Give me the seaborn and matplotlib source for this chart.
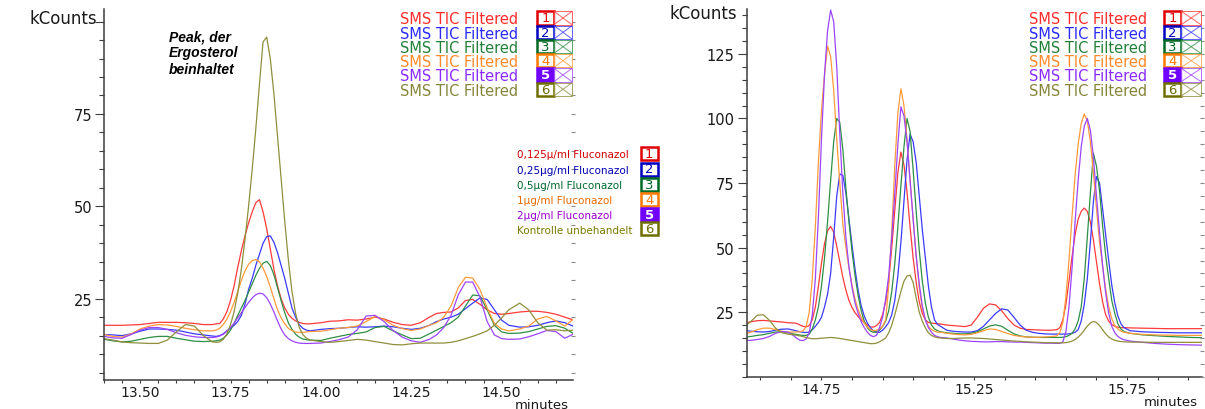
import numpy as np
import pandas as pd
import matplotlib
matplotlib.use("Agg")
import matplotlib.pyplot as plt
import seaborn as sns
from matplotlib.patches import Rectangle
from matplotlib.lines import Line2D
from matplotlib.ticker import MultipleLocator, FixedLocator, FormatStrFormatter

sns.set_theme(style="white")
plt.rcParams["font.family"] = ["DejaVu Sans"]

# ---------------------------------------------------------------- traces
trace_ids = ["1", "2", "3", "4", "5", "6"]
line_colors = ["#ff3a3a", "#3a3aff", "#2f8f45", "#ff9a3a", "#9c45ff", "#8f8f3c"]
label_colors = ["#ff2a2a", "#2a2aff", "#23803a", "#ff8a2a", "#8a2aff", "#85853a"]
box_colors = ["#e00000", "#0000c0", "#006a25", "#ff7800", "#7000ff", "#6e6e00"]
legend_text = "SMS TIC Filtered"
sample_labels = ["0,125µ/ml Fluconazol", "0,25µg/ml Fluconazol", "0,5µg/ml Fluconazol",
                 "1µg/ml Fluconazol", "2µg/ml Fluconazol", "Kontrolle unbehandelt"]
sample_colors = ["#d40000", "#0000b4", "#006a30", "#e86a00", "#9a00d0", "#7a7a00"]
peak_note = "Peak, der\nErgosterol\nbeinhaltet"

# ---------------------------------------------------------------- left window (13.4 - 14.7 min)
left_time = [13.400, 13.425, 13.450, 13.475, 13.500, 13.525, 13.550, 13.575, 13.600, 13.625, 13.650, 13.675, 13.700,
             13.71, 13.72, 13.73, 13.74, 13.75, 13.76, 13.77, 13.78, 13.79, 13.80,
             13.81, 13.82, 13.83, 13.84, 13.85, 13.86, 13.87, 13.88, 13.89, 13.90,
             13.91, 13.92, 13.93, 13.94, 13.95, 13.96, 13.97,
             14.000, 14.025, 14.050, 14.075, 14.100, 14.125, 14.150, 14.175, 14.200, 14.225, 14.250, 14.275, 14.300,
             14.32, 14.34, 14.36, 14.38, 14.40, 14.42, 14.44, 14.46, 14.48, 14.50, 14.52,
             14.55, 14.575, 14.60, 14.625, 14.65, 14.675, 14.70]

left_1 = [17.8, 17.8, 17.8, 17.9, 18.0, 18.3, 18.6, 18.6, 18.6, 18.5, 18.3, 18.0, 18.0,
          18.2, 18.3, 19.5, 21.5, 24.5, 28.5, 33.5, 38.0, 42.0, 45.5,
          48.5, 51.0, 51.8, 48.5, 44.0, 38.5, 33.0, 28.5, 25.0, 22.5,
          20.8, 19.7, 19.0, 18.6, 18.3, 18.2, 18.2,
          18.5, 18.9, 19.0, 19.3, 19.2, 19.5, 20.0, 19.5, 18.6, 18.0, 17.8, 18.5, 20.0,
          21.0, 21.3, 21.4, 22.5, 24.5, 24.8, 23.5, 22.0, 21.0, 20.8, 21.0,
          21.4, 21.6, 21.6, 21.3, 20.8, 20.0, 19.2]
left_2 = [15.3, 15.2, 15.0, 15.5, 16.2, 16.8, 16.8, 16.7, 16.5, 16.0, 15.5, 15.2, 14.9,
          14.8, 15.0, 15.5, 16.3, 17.0, 17.8, 18.8, 20.5, 23.5, 27.5,
          30.5, 34.0, 37.0, 40.0, 41.8, 42.0, 40.3, 37.5, 34.0, 30.5,
          26.5, 22.5, 20.0, 18.0, 17.0, 16.5, 16.3,
          16.7, 16.9, 17.0, 17.2, 17.4, 17.3, 17.4, 17.6, 17.4, 17.0, 16.7, 17.0, 17.8,
          18.8, 19.5, 20.0, 20.8, 22.3, 23.8, 25.2, 24.8, 22.0, 19.2, 17.8,
          17.3, 17.4, 17.8, 18.5, 19.0, 18.5, 17.5]
left_3 = [14.0, 13.6, 13.3, 13.5, 14.0, 14.5, 14.8, 14.8, 14.3, 13.9, 13.5, 13.4, 13.5,
          13.6, 13.8, 14.3, 15.2, 16.5, 18.3, 20.5, 22.5, 24.5, 26.8,
          29.0, 31.3, 33.2, 34.6, 35.1, 34.0, 31.5, 28.0, 24.5, 21.2,
          18.5, 16.7, 15.4, 14.6, 14.1, 13.9, 13.8,
          13.7, 14.3, 14.8, 15.3, 15.6, 16.0, 17.2, 17.5, 16.3, 15.2, 14.2, 14.3, 15.5,
          16.5, 17.5, 18.5, 20.0, 23.0, 26.0, 25.8, 22.0, 17.8, 16.0, 15.6,
          15.7, 16.1, 16.8, 17.5, 17.7, 17.0, 15.5]
left_4 = [15.3, 14.8, 14.6, 15.5, 16.8, 17.6, 18.0, 17.9, 17.5, 17.0, 16.6, 16.3, 16.3,
          16.5, 17.0, 18.0, 19.5, 21.5, 24.0, 27.0, 30.0, 32.5, 34.3,
          35.3, 35.6, 35.0, 33.3, 31.0, 28.2, 25.0, 22.0, 19.8, 18.2,
          17.0, 16.4, 16.0, 15.9, 15.9, 16.0, 16.1,
          16.2, 16.6, 17.0, 17.2, 17.6, 18.8, 20.2, 19.3, 17.8, 16.9, 16.4, 16.8, 17.8,
          18.5, 20.0, 23.0, 28.0, 30.8, 30.6, 27.5, 22.5, 18.3, 16.8, 16.3,
          16.8, 17.6, 19.5, 20.2, 19.0, 17.6, 19.6]
left_5 = [14.8, 14.4, 14.3, 15.3, 16.5, 17.2, 17.2, 16.7, 15.8, 15.1, 14.7, 14.5, 14.5,
          14.6, 14.9, 15.4, 16.2, 17.2, 18.4, 19.8, 21.2, 22.6, 24.0,
          25.2, 26.1, 26.5, 26.3, 25.3, 23.6, 21.4, 19.0, 16.8, 15.2,
          14.2, 13.6, 13.2, 13.0, 12.9, 12.9, 12.9,
          13.0, 13.4, 13.9, 14.6, 16.5, 20.3, 20.5, 18.8, 16.4, 14.6, 13.6, 13.2, 14.0,
          15.2, 17.2, 20.5, 26.0, 29.5, 29.5, 25.5, 18.8, 15.2, 14.2, 14.0,
          14.1, 14.7, 15.5, 16.4, 16.1, 14.3, 15.5]
left_6 = [14.2, 13.8, 13.3, 13.1, 13.0, 12.9, 12.9, 13.8, 16.0, 18.0, 17.6, 15.0, 13.3,
          13.2, 13.3, 14.0, 15.5, 18.0, 21.5, 26.5, 33.0, 41.0, 50.0,
          60.0, 71.0, 83.0, 94.5, 95.8, 90.0, 80.5, 69.0, 57.5, 46.0,
          35.5, 27.0, 21.0, 17.3, 15.3, 14.3, 13.8,
          13.4, 13.2, 13.4, 13.7, 14.0, 13.8, 13.4, 13.0, 12.6, 12.5, 12.8, 13.0, 13.0,
          13.0, 13.0, 13.2, 13.6, 14.2, 14.8, 15.5, 16.3, 17.8, 19.8, 22.0,
          23.8, 22.0, 18.5, 16.5, 16.6, 16.3, 16.5]

# ---------------------------------------------------------------- right window (14.5 - 16.0 min)
right_time = [14.50, 14.52, 14.54, 14.56, 14.58, 14.60, 14.62, 14.64, 14.66,
              14.67, 14.68, 14.69, 14.70, 14.71, 14.72, 14.73, 14.74, 14.75, 14.76,
              14.77, 14.78, 14.79, 14.80, 14.81, 14.82, 14.83, 14.84, 14.85, 14.86,
              14.87, 14.88, 14.89, 14.90, 14.91, 14.92, 14.93, 14.94, 14.95, 14.96,
              14.97, 14.98, 14.99, 15.00, 15.01, 15.02, 15.03, 15.04, 15.05, 15.06,
              15.07, 15.08, 15.09, 15.10, 15.11, 15.12, 15.13, 15.14,
              15.16, 15.18, 15.20, 15.22, 15.24, 15.26, 15.28, 15.30, 15.32, 15.34,
              15.36, 15.38, 15.40, 15.42, 15.44, 15.46, 15.48, 15.50, 15.52,
              15.53, 15.54, 15.55, 15.56, 15.57, 15.58, 15.59, 15.60, 15.61, 15.62,
              15.63, 15.64, 15.65, 15.66, 15.67, 15.68, 15.69, 15.70, 15.71, 15.72, 15.73, 15.74,
              15.76, 15.80, 15.84, 15.88, 15.92, 15.96, 16.00]

right_1 = [20.8, 21.3, 21.7, 21.8, 21.6, 21.4, 21.2, 20.9, 20.8,
           20.6, 20.0, 19.5, 19.3, 19.8, 22.0, 27.0, 35.0, 44.0, 51.5,
           56.5, 58.2, 56.0, 50.5, 44.5, 38.5, 33.5, 29.5, 26.8, 24.8,
           23.3, 22.0, 21.0, 20.0, 19.3, 19.2, 19.8, 21.0, 24.0, 29.0,
           37.0, 50.0, 64.5, 79.0, 87.0, 82.0, 71.5, 58.0, 46.0, 36.5,
           29.0, 24.5, 22.0, 21.0, 20.8, 20.6, 20.5, 20.4,
           20.0, 19.8, 19.6, 19.4, 20.0, 23.0, 26.5, 28.2, 27.8, 25.5,
           22.5, 20.0, 18.8, 18.3, 18.2, 18.1, 18.0, 18.0, 18.2,
           19.0, 22.0, 28.0, 37.0, 46.5, 55.0, 61.0, 64.0, 65.3, 64.0,
           60.0, 53.0, 44.5, 36.0, 29.0, 24.0, 21.5, 20.2, 19.5, 19.2, 19.0, 19.0,
           18.9, 18.8, 18.7, 18.6, 18.6, 18.6, 18.6]
right_2 = [17.9, 17.6, 17.4, 17.3, 17.5, 18.0, 18.4, 18.5, 18.0,
           17.7, 17.4, 17.2, 17.1, 17.3, 18.2, 19.5, 21.0, 23.0, 27.0,
           32.0, 40.0, 54.0, 70.0, 78.5, 78.0, 71.0, 61.0, 51.0, 41.5,
           33.5, 27.5, 23.5, 20.8, 19.0, 17.8, 17.2, 17.2, 18.0, 19.3,
           21.0, 24.0, 29.5, 39.0, 52.0, 68.0, 84.0, 94.0, 91.0, 83.0,
           70.0, 57.0, 46.0, 35.0, 27.0, 22.0, 20.2, 19.5,
           18.0, 17.6, 17.4, 17.3, 17.3, 17.8, 19.5, 22.0, 24.5, 26.3,
           25.8, 23.0, 20.0, 18.0, 17.2, 16.8, 16.6, 16.5, 16.5,
           16.5, 16.5, 16.5, 16.6, 16.8, 17.2, 18.2, 21.5, 28.0, 38.0,
           52.0, 68.0, 77.5, 75.0, 65.0, 55.0, 45.0, 35.5, 28.5, 23.5, 20.5, 19.0,
           17.8, 17.4, 17.2, 17.1, 17.0, 17.0, 17.0]
right_3 = [15.3, 15.6, 16.0, 16.3, 16.8, 17.3, 17.5, 17.0, 16.5,
           16.3, 16.1, 16.0, 16.0, 16.5, 18.5, 22.0, 27.0, 35.0, 46.0,
           60.0, 76.0, 91.0, 100.0, 98.5, 88.0, 73.0, 60.0, 48.5, 39.0,
           31.5, 25.5, 21.5, 19.0, 17.7, 17.2, 17.3, 18.0, 19.5, 21.5,
           25.5, 33.0, 44.0, 58.0, 74.0, 89.0, 100.0, 95.0, 80.0, 64.0,
           49.0, 37.0, 28.5, 23.0, 20.0, 18.5, 17.8, 17.4,
           17.0, 16.8, 16.6, 16.6, 16.8, 17.4, 18.5, 19.6, 20.1, 19.5,
           18.0, 16.6, 15.8, 15.4, 15.3, 15.2, 15.2, 15.2, 15.2,
           15.2, 15.3, 15.5, 16.0, 16.8, 18.5, 21.5, 27.0, 38.0, 54.0,
           71.0, 86.5, 81.5, 72.0, 58.5, 47.0, 38.0, 29.5, 24.5, 20.5, 18.5, 17.5,
           16.8, 16.2, 15.9, 15.6, 15.4, 15.2, 15.1]
right_4 = [16.5, 17.3, 18.2, 18.8, 18.8, 18.2, 17.6, 17.3, 17.3,
           17.3, 17.4, 17.8, 19.5, 25.0, 38.0, 58.0, 83.0, 103.0, 117.0,
           128.0, 124.0, 111.0, 92.0, 75.0, 59.0, 50.0, 42.0, 35.5, 30.0,
           26.0, 23.0, 20.8, 19.3, 18.3, 17.8, 18.0, 18.5, 19.5, 22.0,
           35.0, 56.0, 82.0, 102.0, 111.5, 105.0, 92.0, 76.0, 61.0, 47.0,
           34.5, 26.5, 22.0, 19.5, 18.3, 17.6, 17.3, 17.2,
           16.8, 16.5, 16.3, 16.2, 16.4, 17.0, 17.8, 18.5, 18.3, 17.5,
           16.7, 16.0, 15.6, 15.4, 15.3, 15.3, 15.4, 15.5, 15.8,
           17.0, 21.0, 31.0, 45.0, 62.0, 78.0, 90.0, 98.0, 101.8, 99.0,
           91.0, 79.0, 65.0, 52.0, 43.0, 34.0, 27.0, 22.5, 19.8, 18.5, 17.7, 17.2,
           16.8, 16.4, 16.2, 16.1, 16.0, 16.0, 16.0]
right_5 = [14.0, 14.1, 14.4, 14.8, 15.6, 16.8, 17.5, 17.3, 15.8,
           14.8, 14.1, 14.0, 14.6, 17.0, 24.0, 38.0, 62.0, 92.0, 117.0,
           134.0, 142.0, 137.5, 120.0, 94.0, 71.0, 54.0, 42.5, 34.5, 28.5,
           24.5, 21.3, 19.0, 17.3, 16.0, 15.5, 16.0, 19.0, 23.0, 30.0,
           39.0, 54.0, 71.0, 90.0, 104.5, 101.0, 91.0, 76.0, 61.0, 46.5,
           36.0, 27.5, 22.0, 19.0, 17.2, 16.0, 15.5, 15.2,
           15.0, 14.6, 14.2, 13.9, 13.7, 13.6, 13.5, 13.5, 13.6, 13.6,
           13.5, 13.4, 13.4, 13.3, 13.2, 13.1, 13.0, 13.0, 12.9,
           12.9, 13.5, 17.5, 27.0, 42.0, 60.0, 76.0, 89.0, 97.0, 100.0,
           95.5, 85.0, 70.0, 56.0, 43.0, 32.5, 24.5, 19.5, 17.0, 15.6, 14.8, 14.3,
           13.8, 13.3, 12.9, 12.6, 12.4, 12.3, 12.2]
right_6 = [19.5, 21.5, 23.8, 24.0, 21.8, 18.8, 17.0, 16.5, 16.2,
           16.0, 15.8, 15.5, 15.2, 14.9, 14.7, 14.7, 14.8, 14.9, 15.0,
           15.1, 15.2, 15.1, 15.0, 14.8, 14.6, 14.4, 14.2, 14.0, 13.8,
           13.6, 13.4, 13.2, 13.0, 12.8, 12.8, 13.0, 13.5, 14.2, 15.0,
           17.0, 20.0, 24.0, 28.5, 33.0, 37.0, 39.0, 39.3, 36.5, 30.5,
           25.0, 21.5, 19.0, 17.0, 16.0, 15.4, 15.1, 15.0,
           14.8, 14.8, 14.9, 15.0, 15.0, 14.9, 14.8, 14.6, 14.4, 14.2,
           14.0, 13.8, 13.7, 13.5, 13.4, 13.3, 13.2, 13.2, 13.1,
           13.1, 13.1, 13.2, 13.4, 13.8, 14.4, 15.3, 16.5, 18.0, 19.6,
           20.8, 21.4, 21.0, 19.8, 18.2, 16.6, 15.4, 14.6, 14.1, 13.8, 13.6, 13.5,
           13.4, 13.4, 13.3, 13.3, 13.3, 13.3, 13.3]


def to_long(time, series):
    frames = [pd.DataFrame({"minutes": time, "kCounts": vals, "trace": tid})
              for tid, vals in zip(trace_ids, series)]
    return pd.concat(frames, ignore_index=True)


left_df = to_long(left_time, [left_1, left_2, left_3, left_4, left_5, left_6])
right_df = to_long(right_time, [right_1, right_2, right_3, right_4, right_5, right_6])

# ---------------------------------------------------------------- figure
W, H = 1205, 410
fig = plt.figure(figsize=(W / 100, H / 100), dpi=100)
fig.patch.set_facecolor("white")


def fig_xy(x, y):
    return x / W, 1 - y / H


ax_l = fig.add_axes([104 / W, 1 - 381 / H, 469 / W, 371 / H])
ax_r = fig.add_axes([746.6 / W, 1 - 377.7 / H, 455.3 / W, 367.7 / H])

palette = dict(zip(trace_ids, line_colors))
for ax, df in ((ax_l, left_df), (ax_r, right_df)):
    sns.lineplot(data=df, x="minutes", y="kCounts", hue="trace", palette=palette,
                 estimator=None, sort=False, legend=False, linewidth=0.9, ax=ax)

axis_color = "#3c3c3c"


def style_axes(ax, xlim, ylim, xmajor, xminor, ymajor):
    ax.set_xlim(*xlim)
    ax.set_ylim(*ylim)
    ax.set_xlabel("")
    ax.set_ylabel("")
    ax.set_facecolor("white")
    ax.grid(False)
    ax.xaxis.set_major_locator(FixedLocator(xmajor))
    ax.xaxis.set_minor_locator(xminor)
    ax.xaxis.set_major_formatter(FormatStrFormatter("%.2f"))
    ax.yaxis.set_major_locator(FixedLocator(ymajor))
    ax.yaxis.set_minor_locator(MultipleLocator(5))
    for side in ("top", "right"):
        ax.spines[side].set_visible(False)
    for side in ("left", "bottom"):
        ax.spines[side].set_color(axis_color)
        ax.spines[side].set_linewidth(1.1)
    ax.tick_params(axis="y", which="major", left=True, direction="out", length=6.5, width=0.8,
                   pad=2, labelsize=10.5, color=axis_color, labelcolor="#1a1a1a")
    ax.tick_params(axis="y", which="minor", left=True, direction="out", length=3.4, width=0.8,
                   color=axis_color)
    ax.tick_params(axis="x", which="major", bottom=True, direction="out", length=2.5, width=0.8,
                   pad=1.0, labelsize=10, color=axis_color, labelcolor="#1a1a1a")
    ax.tick_params(axis="x", which="minor", bottom=True, direction="out", length=2.2, width=0.8,
                   color=axis_color)
    # short tick marks along the open right edge
    tw = ax.twinx()
    tw.set_ylim(*ylim)
    tw.yaxis.set_major_locator(MultipleLocator(25))
    tw.yaxis.set_minor_locator(MultipleLocator(5))
    tw.tick_params(axis="y", which="both", right=True, left=False, direction="inout",
                   length=3, width=0.8, labelright=False, color="#8a8a8a")
    tw.grid(False)
    for s in tw.spines.values():
        s.set_visible(False)


style_axes(ax_l, (13.40, 14.6975), (3, 103.4),
           [13.50, 13.75, 14.00, 14.25, 14.50], MultipleLocator(0.05), [25, 50, 75, 100])
ax_l.set_yticklabels(["25", "50", "75", ""])
style_axes(ax_r, (14.505, 15.995), (0, 142.4),
           [14.75, 15.25, 15.75], FixedLocator(np.arange(14.55, 16.0, 0.1)), [25, 50, 75, 100, 125])

# axis titles: time under the right end of each x axis, counts at the top of each y axis
ax_l.annotate("minutes", xy=(1, 0), xycoords="axes fraction", xytext=(-4, -28),
              textcoords="offset pixels", ha="right", va="baseline", fontsize=9.5,
              color="#1a1a1a")
ax_r.annotate("minutes", xy=(1, 0), xycoords="axes fraction", xytext=(-4, -28),
              textcoords="offset pixels", ha="right", va="baseline", fontsize=9.5,
              color="#1a1a1a")
ax_l.annotate("kCounts", xy=(0, 100), xycoords=("axes fraction", "data"), xytext=(-7, 4),
              textcoords="offset pixels", ha="right", va="center", fontsize=12, color="#1a1a1a")
ax_r.annotate("kCounts", xy=(0, 140), xycoords=("axes fraction", "data"), xytext=(-9, 2),
              textcoords="offset pixels", ha="right", va="center", fontsize=12, color="#1a1a1a")

# ---------------------------------------------------------------- trace legends
def number_box(x0, yc, w, h, i, lw=1.8, fs=9.5):
    filled = trace_ids[i] == "5"
    rect = Rectangle(fig_xy(x0, yc + h / 2), w / W, h / H, transform=fig.transFigure,
                     facecolor=box_colors[i] if filled else "white",
                     edgecolor=box_colors[i], linewidth=lw, zorder=5)
    fig.add_artist(rect)
    fig.text(*fig_xy(x0 + w / 2, yc), trace_ids[i], ha="center", va="center",
             fontsize=fs, color="white" if filled else box_colors[i],
             fontweight="bold" if filled else "normal", zorder=6)


def crossed_box(x0, yc, w, h, i):
    c = line_colors[i]
    rect = Rectangle(fig_xy(x0, yc + h / 2), w / W, h / H, transform=fig.transFigure,
                     facecolor="white", edgecolor=c, linewidth=0.7, alpha=0.8, zorder=5)
    fig.add_artist(rect)
    for ya, yb in ((yc - h / 2, yc + h / 2), (yc + h / 2, yc - h / 2)):
        xa, ya_f = fig_xy(x0, ya)
        xb, yb_f = fig_xy(x0 + w, yb)
        fig.add_artist(Line2D([xa, xb], [ya_f, yb_f], transform=fig.transFigure,
                              color=c, linewidth=0.7, alpha=0.8, zorder=5))


sms_rows = [19.0, 33.3, 47.7, 61.7, 76.0, 90.3]
for text_right, box_left, box_end in ((518, 536.7, 572.0), (1147, 1164.0, 1201.0)):
    for i, yc in enumerate(sms_rows):
        fig.text(*fig_xy(text_right, yc + 5.5), legend_text, ha="right", va="baseline",
                 fontsize=10.5, color=label_colors[i])
        number_box(box_left, yc, 17.3, 13.3, i)
        crossed_box(box_left + 17.3, yc, box_end - box_left - 17.3, 13.3, i)

sample_rows = [154.5, 170.0, 185.5, 200.5, 215.5, 229.7]
for i, yc in enumerate(sample_rows):
    fig.text(*fig_xy(517, yc + 4), sample_labels[i], ha="left", va="baseline",
             fontsize=7.5, color=sample_colors[i])
    number_box(640.5, yc, 17.4, 13.0, i, lw=1.8, fs=9.5)

fig.text(*fig_xy(169, 30), peak_note, ha="left", va="top", fontsize=10,
         fontweight="bold", fontstyle="italic", family=["Liberation Sans", "DejaVu Sans"],
         linespacing=1.22, color="black")

fig.savefig("out.png", dpi=100, facecolor="white")
